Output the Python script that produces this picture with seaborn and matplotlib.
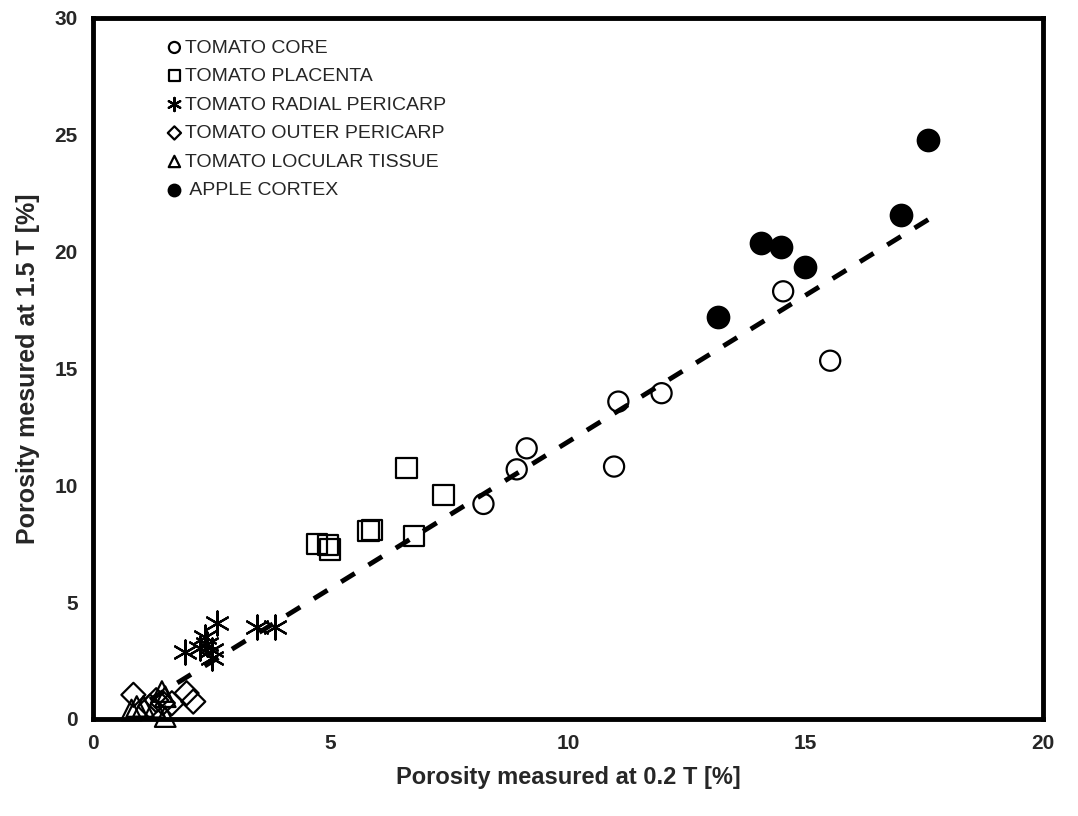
import numpy as np
import pandas as pd
import seaborn as sns
import matplotlib.pyplot as plt

# values
core_x = [8.22, 8.92, 9.13, 10.97, 11.06, 11.97, 14.53, 15.52]
core_y = [9.20, 10.68, 11.58, 10.80, 13.58, 13.94, 18.30, 15.33]

placenta_x = [4.71, 4.95, 4.98, 5.80, 5.88, 6.60, 6.76, 7.38]
placenta_y = [7.49, 7.45, 7.25, 8.04, 8.08, 10.73, 7.83, 9.58]

radial_x = [1.94, 2.25, 2.36, 2.40, 2.50, 2.50, 2.62, 3.45, 3.83]
radial_y = [2.88, 3.02, 3.52, 3.20, 2.95, 2.60, 4.09, 3.95, 3.95]

outer_x = [0.85, 1.20, 1.33, 1.47, 1.66, 1.97, 2.11]
outer_y = [1.03, 0.53, 0.80, 0.68, 0.67, 1.10, 0.74]

locular_x = [0.81, 0.92, 1.06, 1.30, 1.45, 1.52, 1.52]
locular_y = [0.38, 0.53, 0.53, 0.50, 1.17, 0.95, 0.10]

apple_x = [13.16, 14.07, 14.48, 14.99, 17.02, 17.57]
apple_y = [17.21, 20.35, 20.21, 19.33, 21.57, 24.78]

trend_x = [1.20, 17.68]
trend_y = [0.82, 21.49]

x_ticks = [0, 5, 10, 15, 20]
y_ticks = [0, 5, 10, 15, 20, 25, 30]

sns.set_style("white")
plt.rcParams['font.family'] = ['Liberation Sans', 'DejaVu Sans']

fig = plt.figure(figsize=(10.78, 8.16), dpi=100)
ax = fig.add_axes([0.0863, 0.119, 0.8812, 0.859])

open_kw = dict(color='black', facecolor='none', edgecolor='black', linewidth=1.6, clip_on=False)

sns.scatterplot(x=core_x, y=core_y, marker='o', s=210, label='TOMATO CORE', ax=ax, **open_kw)
sns.scatterplot(x=placenta_x, y=placenta_y, marker='s', s=210, label='TOMATO PLACENTA', ax=ax, **open_kw)
sns.scatterplot(x=radial_x, y=radial_y, marker=(6, 2, 0), s=300, color='black', linewidth=1.6,
                label='TOMATO RADIAL PERICARP', ax=ax, clip_on=False)
sns.scatterplot(x=outer_x, y=outer_y, marker='D', s=150, label='TOMATO OUTER PERICARP', ax=ax, **open_kw)
sns.scatterplot(x=locular_x, y=locular_y, marker='^', s=220, label='TOMATO LOCULAR TISSUE', ax=ax, **open_kw)
sns.scatterplot(x=apple_x, y=apple_y, marker='o', s=250, color='black', edgecolor='black',
                label=' APPLE CORTEX', ax=ax, clip_on=False)

sns.lineplot(x=trend_x, y=trend_y, color='black', linewidth=3.5, dashes=False, ax=ax)
ax.lines[-1].set_dashes([3.3, 3.3])

ax.set_xlim(0, 20)
ax.set_ylim(0, 30)
ax.set_xticks(x_ticks)
ax.set_yticks(y_ticks)
ax.tick_params(direction='inout', length=10, width=2, labelsize=15, pad=6)
for lab in ax.get_xticklabels() + ax.get_yticklabels():
    lab.set_fontweight('bold')
for sp in ax.spines.values():
    sp.set_linewidth(3.5)
    sp.set_color('black')

ax.set_xlabel('Porosity measured at 0.2 T [%]', fontsize=17, fontweight='bold', labelpad=9)
ax.set_ylabel('Porosity mesured at 1.5 T [%]', fontsize=18, fontweight='bold', labelpad=10)

ax.legend(loc='upper left', bbox_to_anchor=(0.057, 0.995), frameon=False, fontsize=14,
          markerscale=0.55, handletextpad=0.05, labelspacing=0.56, handlelength=1.0)

fig.savefig('out.png', dpi=100)
